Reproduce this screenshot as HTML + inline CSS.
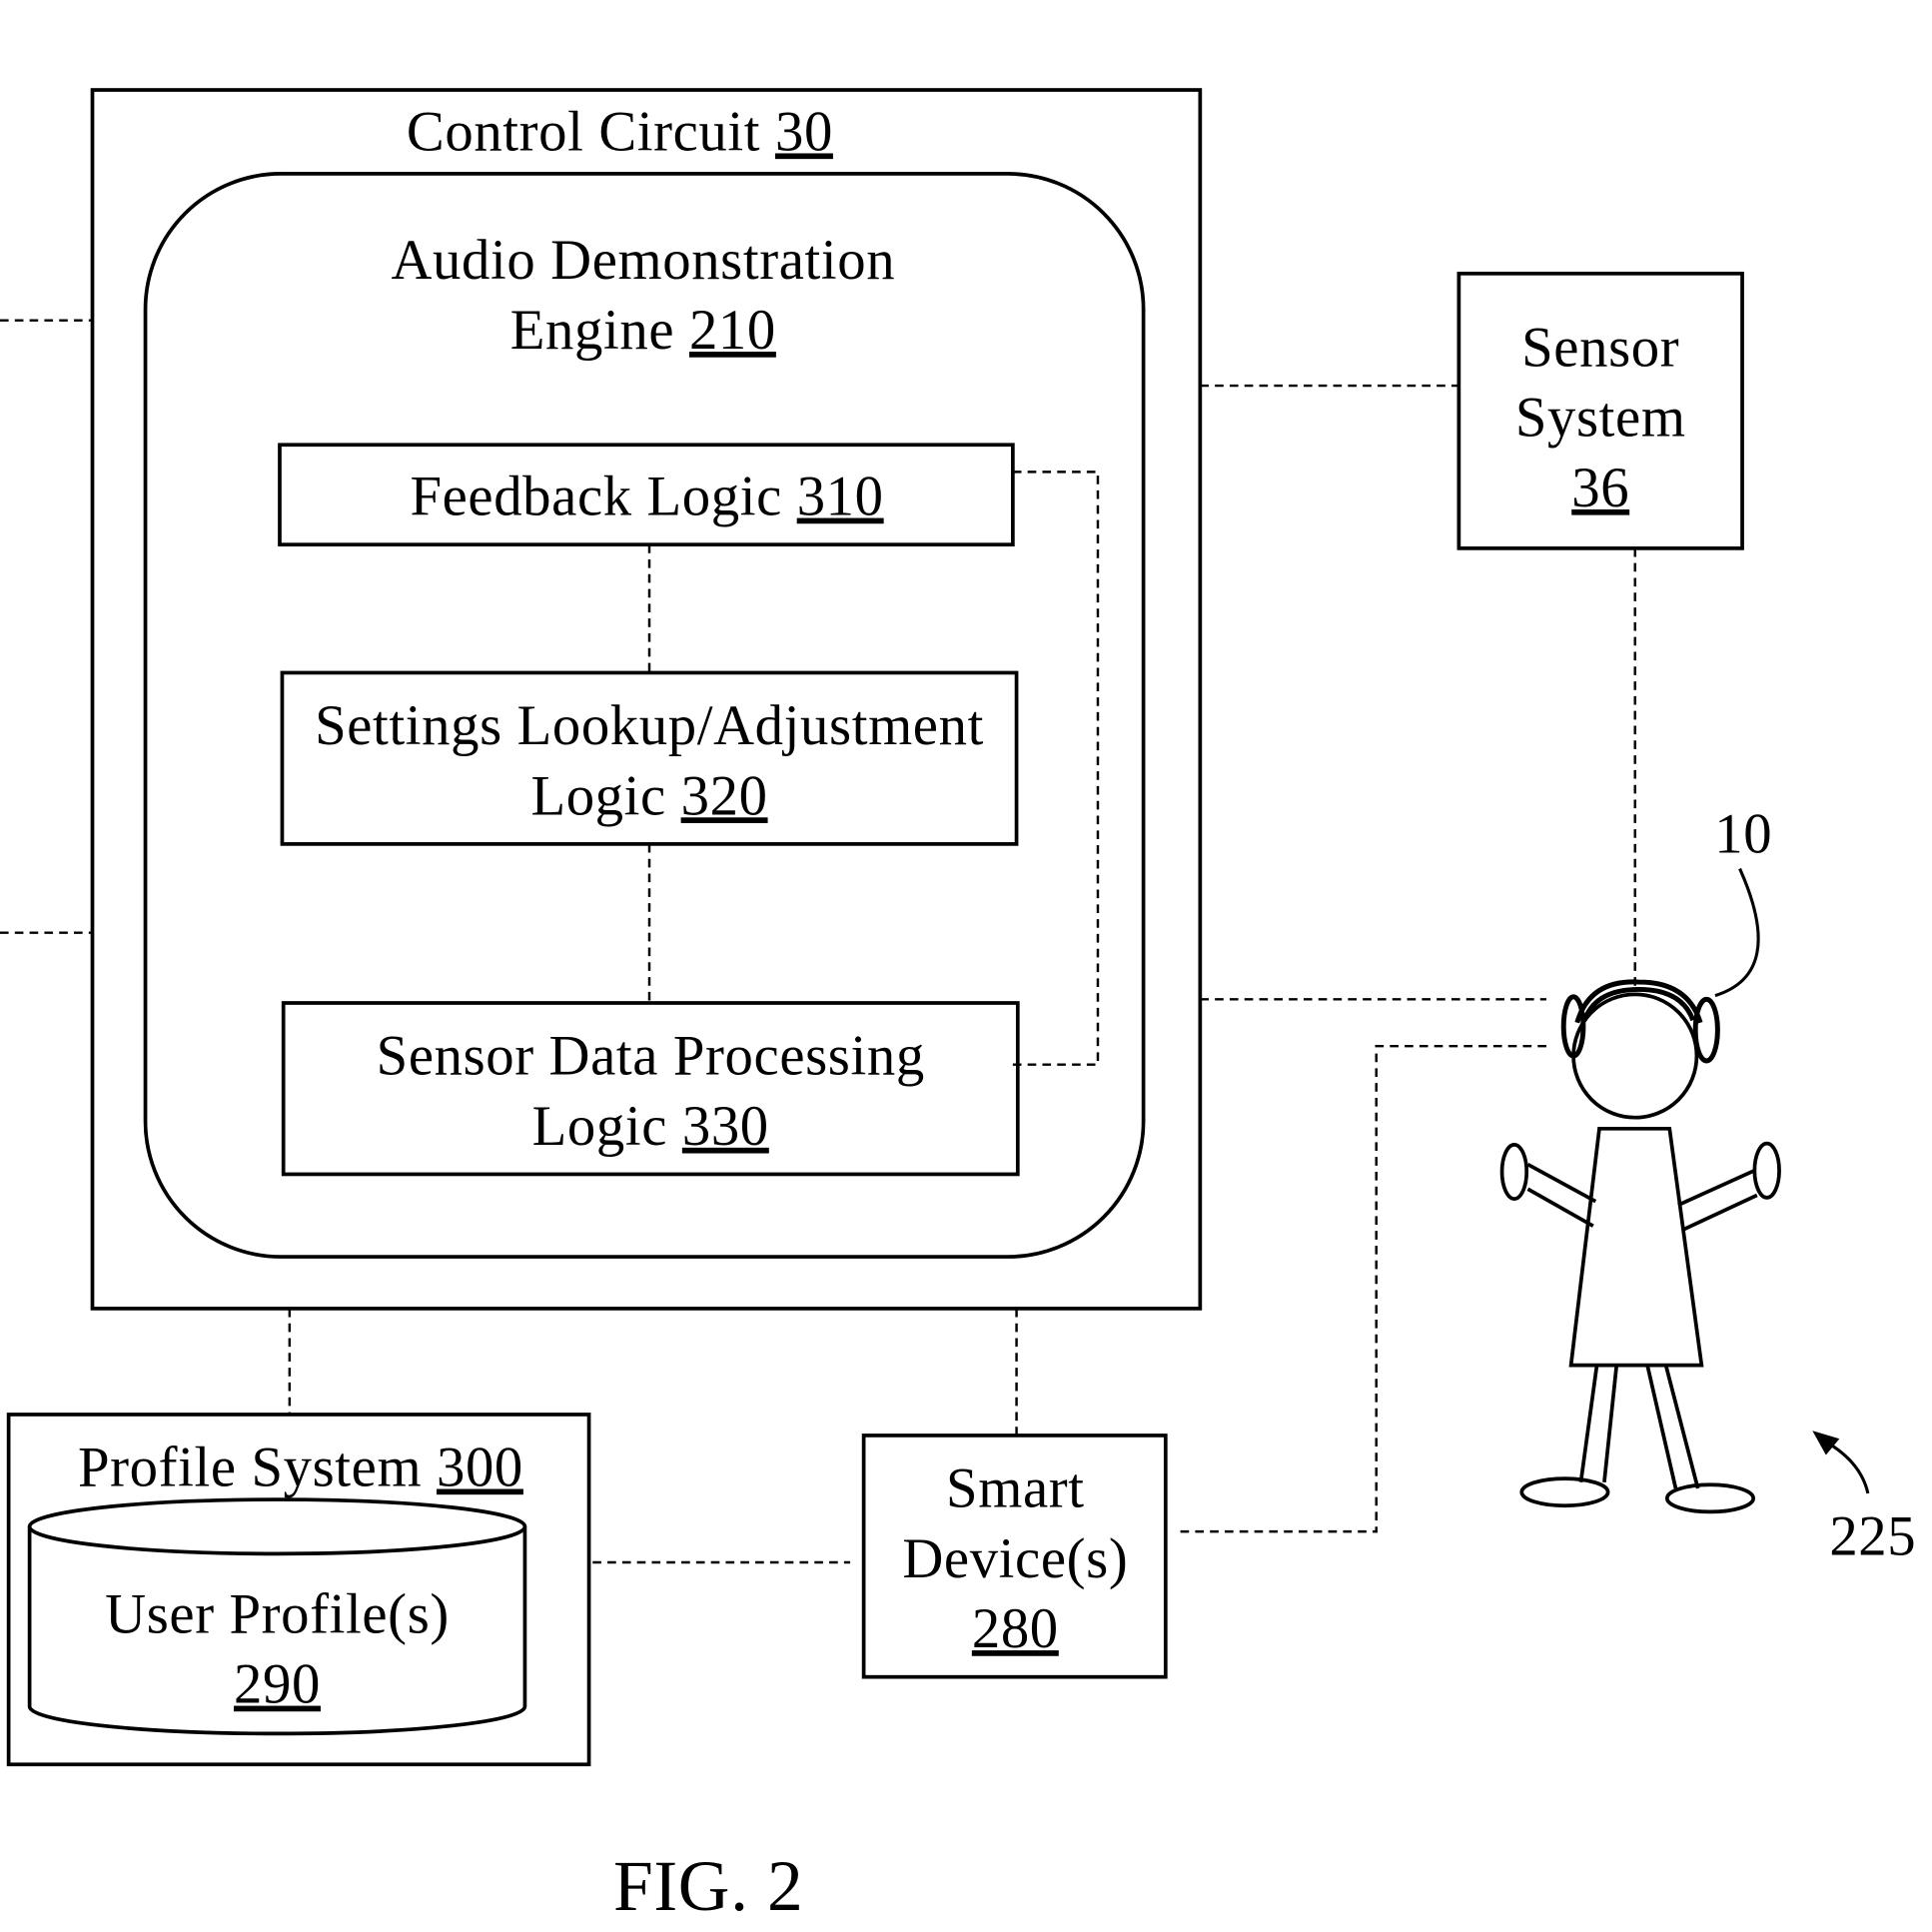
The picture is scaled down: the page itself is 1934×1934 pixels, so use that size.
<!DOCTYPE html>
<html><head><meta charset="utf-8"><style>html,body{margin:0;padding:0;background:#fff}svg{display:block}</style></head>
<body>
<svg width="1934" height="1934" viewBox="0 0 1568 1568" xmlns="http://www.w3.org/2000/svg" font-family="Liberation Serif, serif" font-size="46" fill="none" stroke="#000">
<g stroke-width="3">
<rect x="75" y="73" width="899" height="989"/>
<rect x="118" y="141" width="810" height="879" rx="110"/>
<rect x="227" y="361" width="595" height="81"/>
<rect x="229" y="546" width="596" height="139"/>
<rect x="230" y="814" width="596" height="139"/>
<rect x="1184" y="222" width="230" height="223"/>
<rect x="7" y="1148" width="471" height="284"/>
<rect x="701" y="1165" width="245" height="196"/>
<ellipse cx="225" cy="1239" rx="201" ry="22"/>
<path d="M24 1239 V1385 A201 22 0 0 0 426 1385 V1239"/>
</g>
<g stroke-width="2" stroke-dasharray="7,5">
<path d="M527 442 V546 M527 685 V814 M822 383 H891 V864 H822"/>
<path d="M0 260 H75 M0 757 H75"/>
<path d="M974 313 H1184 M1327 445 V800 M974 811 H1255 M1255 849 H1117 V1243 H958"/>
<path d="M235 1062 V1148 M825 1062 V1165 M481 1268 H690"/>
</g>
<g stroke-width="3">
<circle cx="1327" cy="857" r="50"/>
<path d="M1280 830 Q1290 795 1330 797 Q1370 797 1380 830" stroke-width="4"/>
<path d="M1286 828 Q1295 803 1330 803 Q1365 803 1374 828" stroke-width="4"/>
<ellipse cx="1277" cy="833" rx="8" ry="24" stroke-width="4"/>
<ellipse cx="1385" cy="836" rx="9" ry="25" stroke-width="4"/>
<path d="M1298 916 H1355 L1381 1108 H1275 Z"/>
<path d="M1295 975 L1240 945 M1293 995 L1240 965"/>
<ellipse cx="1229" cy="951" rx="10" ry="22"/>
<path d="M1362 978 L1424 950 M1366 998 L1426 970"/>
<ellipse cx="1434" cy="950" rx="10" ry="22"/>
<path d="M1296 1108 L1283 1203 M1312 1108 L1302 1203 M1337 1108 L1360 1208 M1352 1108 L1378 1208"/>
<ellipse cx="1270" cy="1211" rx="35" ry="11"/>
<ellipse cx="1388" cy="1216" rx="35" ry="11"/>
<path d="M1412 705 Q1450 790 1392 808" stroke-width="2.5"/>
<path d="M1516 1212 Q1510 1185 1478 1168" stroke-width="2.5"/>
<path d="M1472 1162 L1492 1168 L1482 1180 Z" fill="#000" stroke-width="1"/>
</g>
<g fill="#000" stroke="none" text-anchor="middle" letter-spacing="0.5">
<text x="503" y="122">Control Circuit <tspan text-decoration="underline">30</tspan></text>
<text x="522" y="226">Audio Demonstration</text>
<text x="522" y="283">Engine <tspan text-decoration="underline">210</tspan></text>
<text x="525" y="418">Feedback Logic <tspan text-decoration="underline">310</tspan></text>
<text x="527" y="604">Settings Lookup/Adjustment</text>
<text x="527" y="661">Logic <tspan text-decoration="underline">320</tspan></text>
<text x="528" y="872">Sensor Data Processing</text>
<text x="528" y="929">Logic <tspan text-decoration="underline">330</tspan></text>
<text x="1299" y="297">Sensor</text>
<text x="1299" y="354">System</text>
<text x="1299" y="411" text-decoration="underline">36</text>
<text x="244" y="1206">Profile System <tspan text-decoration="underline">300</tspan></text>
<text x="225" y="1325">User Profile(s)</text>
<text x="225" y="1382" text-decoration="underline">290</text>
<text x="824" y="1223">Smart</text>
<text x="824" y="1280">Device(s)</text>
<text x="824" y="1337" text-decoration="underline">280</text>
<text x="1415" y="692">10</text>
<text x="1520" y="1262">225</text>
<text x="575" y="1550" font-size="58">FIG. 2</text>
</g>
</svg>
</body></html>
